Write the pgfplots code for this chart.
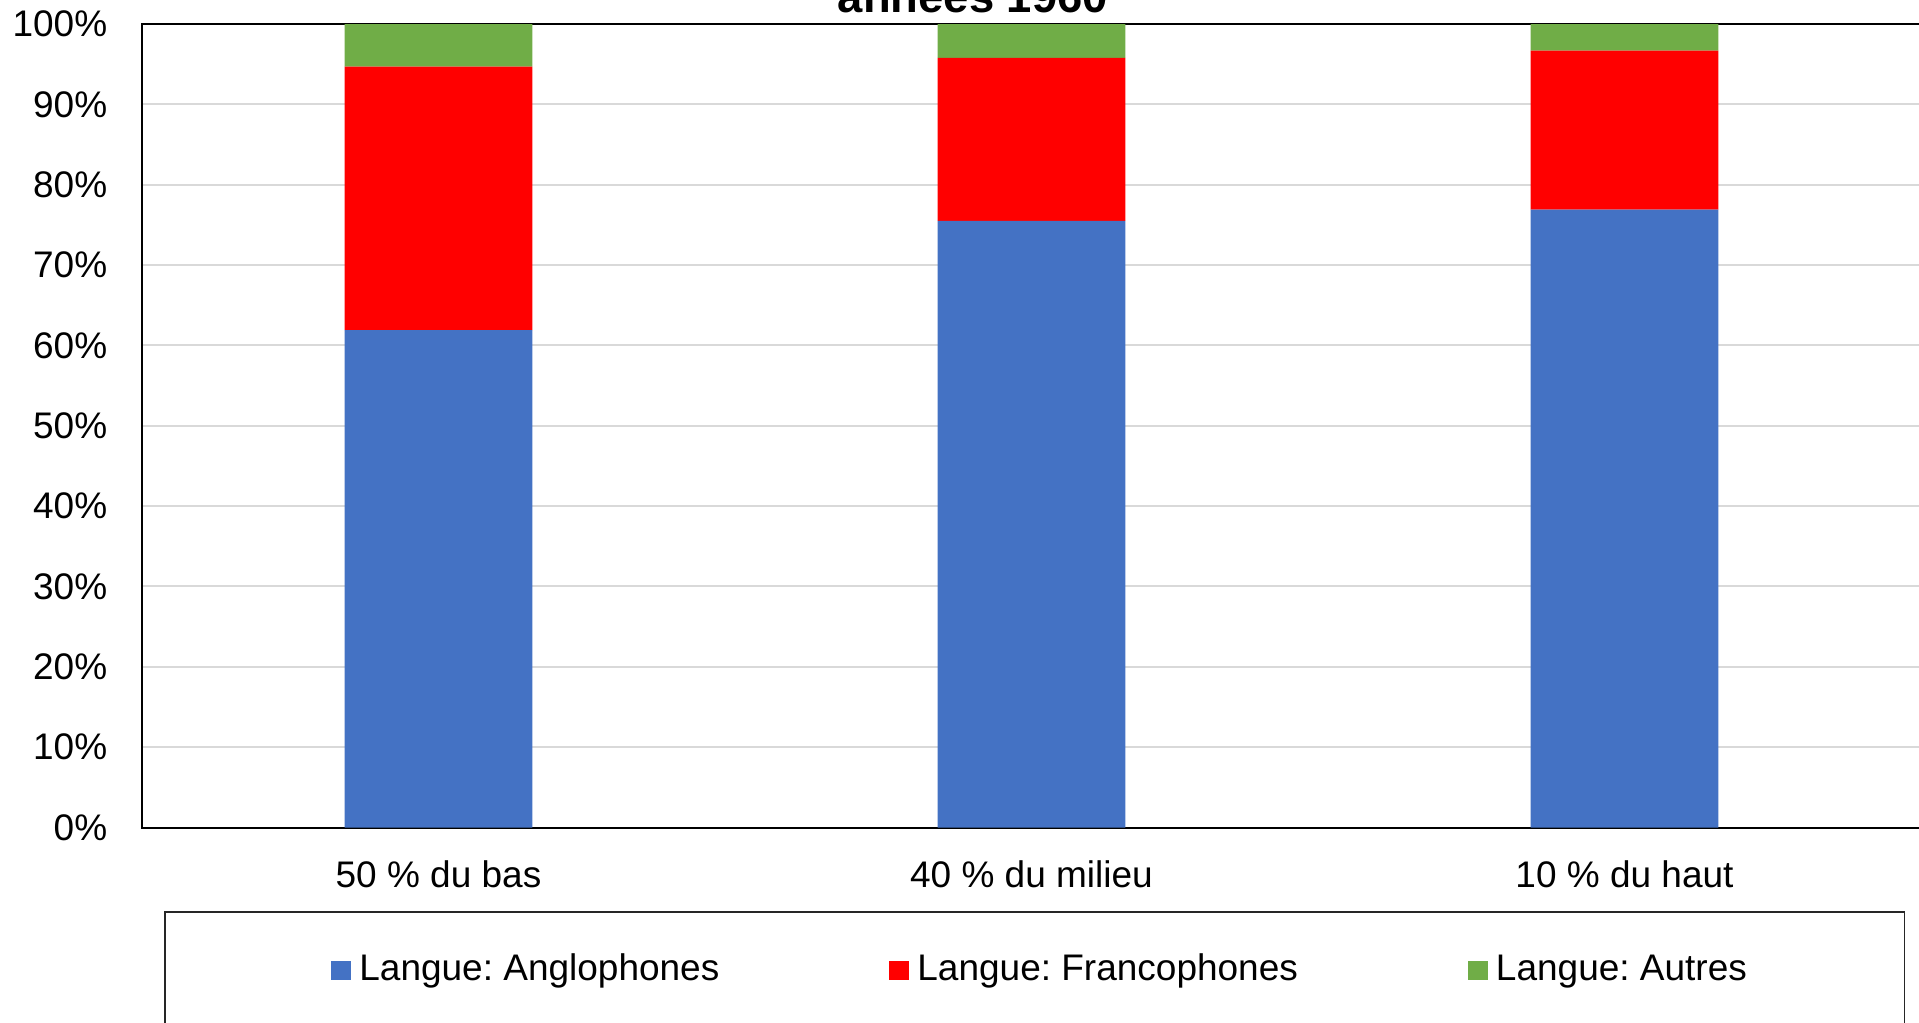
\documentclass[border=0pt]{standalone}
\usepackage{pgfplots}
\pgfplotsset{compat=1.18}
\usepackage{fontspec}
\setmainfont{Liberation Sans}
\definecolor{cblue}{HTML}{4472C4}
\definecolor{cred}{HTML}{FF0000}
\definecolor{cgreen}{HTML}{70AD47}
\definecolor{cgrid}{HTML}{D9D9D9}
\begin{document}
\frenchspacing
\begin{tikzpicture}
\begin{axis}[
  name=ax,
  at={(0,0)}, anchor=south west,
  scale only axis,
  width=444.75pt, height=200.875pt,
  ybar stacked,
  bar width=0.3165,
  xmin=-0.5, xmax=2.5,
  ymin=0, ymax=100,
  xtick={0,1,2},
  xticklabels={50 \% du bas, 40 \% du milieu, 10 \% du haut},
  ytick={0,10,...,100},
  yticklabels={0\%,10\%,20\%,30\%,40\%,50\%,60\%,70\%,80\%,90\%,100\%},
  major tick length=0pt,
  tick style={draw=none},
  ymajorgrids,
  major grid style={cgrid, line width=0.5pt},
  axis line style={black, line width=0.5pt},
  yticklabel style={font=\fontsize{9.25pt}{11pt}\selectfont, anchor=east, inner sep=0pt, xshift=-8.5pt},
  xticklabel style={font=\fontsize{9.25pt}{11pt}\selectfont, anchor=north, inner sep=0pt, yshift=-8pt},
  clip=false,
  legend columns=3,
  legend image code/.code={\fill[#1,draw=none] (0pt,-2.45pt) rectangle (4.9pt,2.45pt);},
  legend style={at={(0.10600,-0.17797)}, anchor=west, draw=none, fill=none,
    inner sep=0pt, nodes={inner sep=0pt},
    font=\fontsize{9.25pt}{11pt}\selectfont,
    /tikz/every odd column/.append style={column sep=2.1pt},
    /tikz/every even column/.append style={column sep=42.5pt}},
]
\addplot[fill=cblue, draw=none] coordinates {(0,61.9) (1,75.5) (2,76.9)};
\addlegendentry{Langue: Anglophones}
\addplot[fill=cred, draw=none] coordinates {(0,32.8) (1,20.3) (2,19.8)};
\addlegendentry{Langue: Francophones}
\addplot[fill=cgreen, draw=none] coordinates {(0,5.3) (1,4.2) (2,3.3)};
\addlegendentry{Langue: Autres}
\draw[black!85, line width=0.4pt] (axis description cs:0.01293,-0.10516) rectangle (axis description cs:0.99073,-0.25078);
\node[anchor=base, inner sep=0pt, font=\bfseries\fontsize{11.35pt}{13pt}\selectfont] at (axis description cs:0.46712,1.01494) {années 1960};
\end{axis}
\pgfresetboundingbox
\path (-35.5pt,-48.625pt) rectangle (444.25pt,206.875pt);
\end{tikzpicture}
\end{document}
